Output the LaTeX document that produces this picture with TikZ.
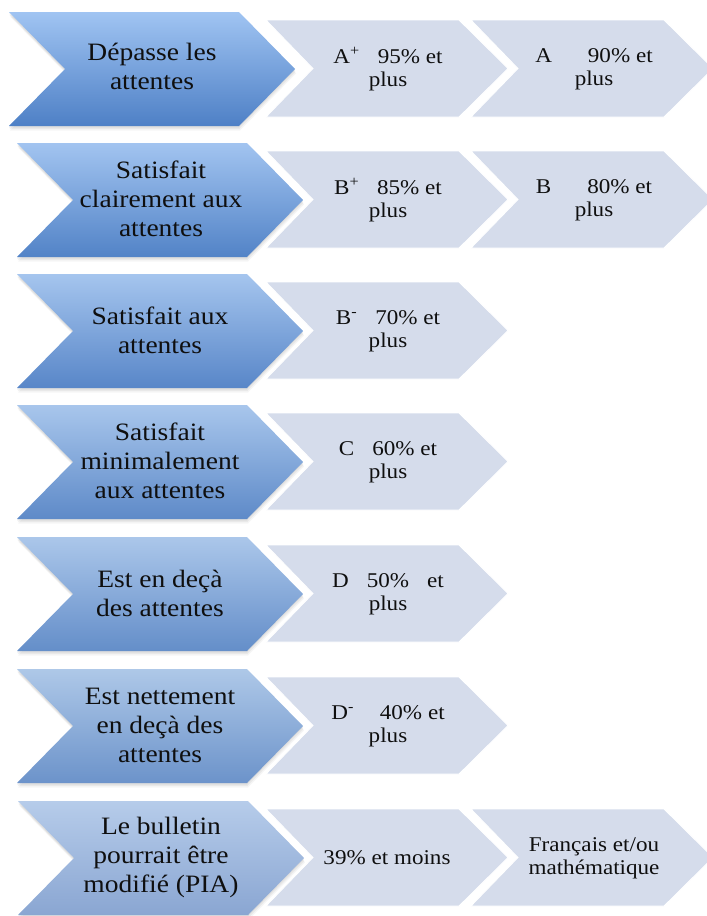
\documentclass[tikz,border=0pt]{standalone}
\usepackage{fontspec}
\setmainfont{Liberation Serif}[FakeStretch=1.1]
\usetikzlibrary{shadows}
\definecolor{lightfill}{RGB}{213,220,235}
\definecolor{txt}{RGB}{15,15,15}
\definecolor{tA}{RGB}{160,196,242}\definecolor{bA}{RGB}{78,128,198}
\definecolor{tB}{RGB}{162,196,240}\definecolor{bB}{RGB}{82,131,199}
\definecolor{tC}{RGB}{165,197,238}\definecolor{bC}{RGB}{88,134,200}
\definecolor{tD}{RGB}{168,198,236}\definecolor{bD}{RGB}{94,138,200}
\definecolor{tE}{RGB}{171,199,234}\definecolor{bE}{RGB}{100,142,201}
\definecolor{tF}{RGB}{174,200,232}\definecolor{bF}{RGB}{108,147,202}
\definecolor{tG}{RGB}{182,204,234}\definecolor{bG}{RGB}{138,166,210}
\tikzset{
  bluechev/.style={
    drop shadow={shadow xshift=1pt, shadow yshift=-4.5pt, opacity=0.08},
    drop shadow={shadow xshift=0.5pt, shadow yshift=-3pt, opacity=0.1},
    drop shadow={shadow xshift=0pt, shadow yshift=-1.5pt, opacity=0.12}},
  lightchev/.style={fill=lightfill, draw=white, line width=0.8pt},
  bigtext/.style={align=center, text=txt, font=\fontsize{25}{29}\selectfont, inner sep=0pt},
  smalltext/.style={align=center, text=txt, font=\fontsize{21}{23}\selectfont, inner sep=0pt},
}
\begin{document}
\begin{tikzpicture}[x=1pt,y=-1pt]
\useasboundingbox (0,0) rectangle (707,916);
\clip (0,0) rectangle (707,916);
% blue chevrons
\path[bluechev, top color=tA, bottom color=bA] (9,12) -- ++(230,0) -- ++(56,57) -- ++(-56,57) -- ++(-230,0) -- ++(56,-57) -- cycle;
\path[bluechev, top color=tB, bottom color=bB] (17,143) -- ++(230,0) -- ++(56,57) -- ++(-56,57) -- ++(-230,0) -- ++(56,-57) -- cycle;
\path[bluechev, top color=tC, bottom color=bC] (17,274) -- ++(230,0) -- ++(56,57) -- ++(-56,57) -- ++(-230,0) -- ++(56,-57) -- cycle;
\path[bluechev, top color=tD, bottom color=bD] (17,405) -- ++(230,0) -- ++(56,57) -- ++(-56,57) -- ++(-230,0) -- ++(56,-57) -- cycle;
\path[bluechev, top color=tE, bottom color=bE] (17,537) -- ++(230,0) -- ++(56,57) -- ++(-56,57) -- ++(-230,0) -- ++(56,-57) -- cycle;
\path[bluechev, top color=tF, bottom color=bF] (17,669) -- ++(230,0) -- ++(56,57) -- ++(-56,57) -- ++(-230,0) -- ++(56,-57) -- cycle;
\path[bluechev, top color=tG, bottom color=bG] (18,801) -- ++(230,0) -- ++(56,57) -- ++(-56,57) -- ++(-230,0) -- ++(56,-57) -- cycle;
% light chevrons, column 1
\foreach \t in {20,151,282,413,545,677,809}{
  \path[lightchev] (266,\t) -- ++(193,0) -- ++(49,48.5) -- ++(-49,48.5) -- ++(-193,0) -- ++(47,-48.5) -- cycle;
}
% light chevrons, column 2
\foreach \t in {20,151,809}{
  \path[lightchev] (471,\t) -- ++(193,0) -- ++(49,48.5) -- ++(-49,48.5) -- ++(-193,0) -- ++(47,-48.5) -- cycle;
}
% blue texts
\node[bigtext] (b1) at (152,66) {Dépasse les\\attentes};
\node[bigtext] (b2) at (161,199) {Satisfait\\clairement aux\\attentes};
\node[bigtext] (b3) at (160,330) {Satisfait aux\\attentes};
\node[bigtext] (b4) at (160,461) {Satisfait\\minimalement\\aux attentes};
\node[bigtext] (b5) at (160,593) {Est en deçà\\des attentes};
\node[bigtext] (b6) at (160,725) {Est nettement\\en deçà des\\attentes};
\node[bigtext] (b7) at (161,857) {Le bulletin\\pourrait être\\modifié (PIA)};
% light texts
\node[smalltext] (l1) at (388,69) {A\textsuperscript{+}\hspace{18pt}95\% et\\plus};
\node[smalltext] (r1) at (594,69) {A\hspace{36pt}90\% et\\plus};
\node[smalltext] (l2) at (388,200) {B\textsuperscript{+}\hspace{18pt}85\% et\\plus};
\node[smalltext] (r2) at (594,200) {B\hspace{36pt}80\% et\\plus};
\node[smalltext] (l3) at (388,331) {B\textsuperscript{-}\hspace{18pt}70\% et\\plus};
\node[smalltext] (l4) at (388,462) {C\hspace{18pt}60\% et\\plus};
\node[smalltext] (l5) at (388,594) {D\hspace{18pt}50\%\hspace{18pt}et\\plus};
\node[smalltext] (l6) at (388,726) {D\textsuperscript{-}\hspace{26pt}40\% et\\plus};
\node[smalltext] (l7) at (387,858) {39\% et moins};
\node[smalltext] (r7) at (594,858) {Français et/ou\\mathématique};
\end{tikzpicture}
\end{document}
